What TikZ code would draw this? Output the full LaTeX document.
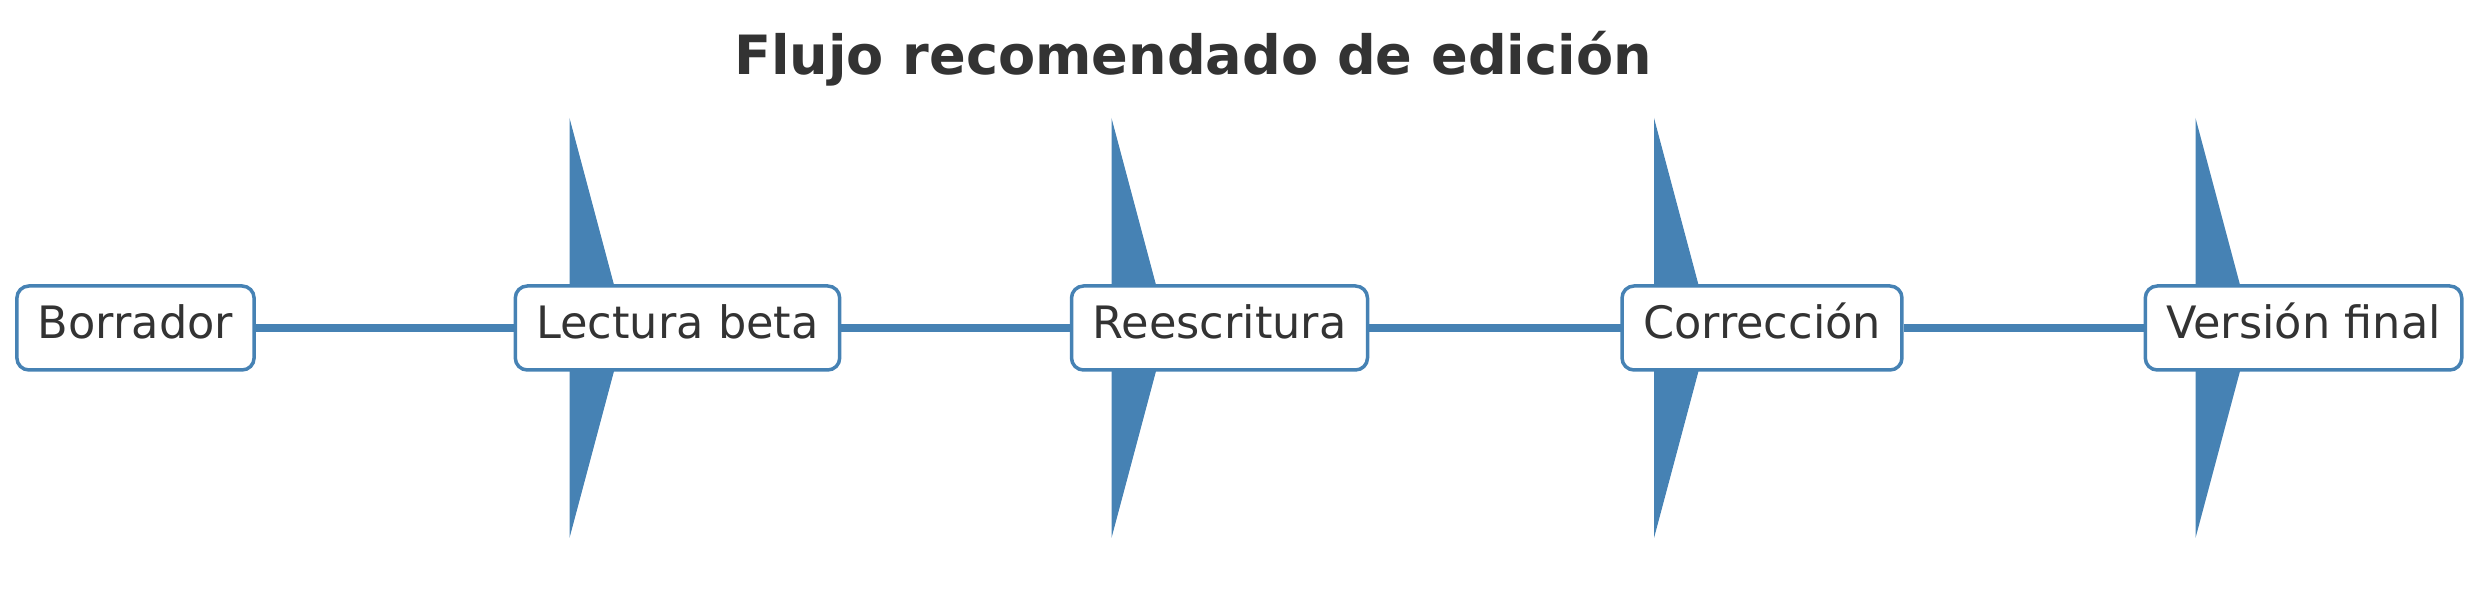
\documentclass[tikz,border=0pt]{standalone}
\usepackage{fontspec}
\setmainfont{DejaVu Sans}
\usepackage{xcolor}
\usetikzlibrary{arrows.meta}
\usetikzlibrary{backgrounds}
\definecolor{steel}{HTML}{4682B4}
\definecolor{ink}{HTML}{333333}

\begin{document}
\begin{tikzpicture}[x=0.1mm,y=-0.1mm]
\tikzset{>={Triangle[length=5.6mm,width=42mm,line width=0pt]}}
\tikzstyle{stage} =[draw=steel,line width=0.35mm,fill=white,rounded corners=1.2mm,text=ink,font=\fontsize{12.7pt}{16pt}\selectfont,inner xsep=2.1mm,inner ysep=0pt,minimum height=8.4mm,text height=0.8em,text depth=0.18em]
\tikzstyle{flow} =[->,draw=steel,fill=steel,line width=0.85mm]

\useasboundingbox (0,0) rectangle (2474,589);

\node[anchor=base,text=ink,font=\bfseries\fontsize{15.4pt}{19pt}\selectfont](title) at (1193,75){Flujo recomendado de edición};

\node[stage](s1) at (135.5,328){Borrador};
\node[stage](s2) at (677.5,328){Lectura beta};
\node[stage](s3) at (1219.5,328){Reescritura};
\node[stage](s4) at (1762,328){Corrección};
\node[stage](s5) at (2303.5,328){Versión final};

% flechas detras de las cajas
\begin{scope}[on background layer]
\draw [flow] (s1) to ([xshift=-5.2mm]s2.center);
\draw [flow] (s2) to ([xshift=-5.2mm]s3.center);
\draw [flow] (s3) to ([xshift=-5.2mm]s4.center);
\draw [flow] (s4) to ([xshift=-5.2mm]s5.center);
\end{scope}
\end{tikzpicture}
\end{document}
